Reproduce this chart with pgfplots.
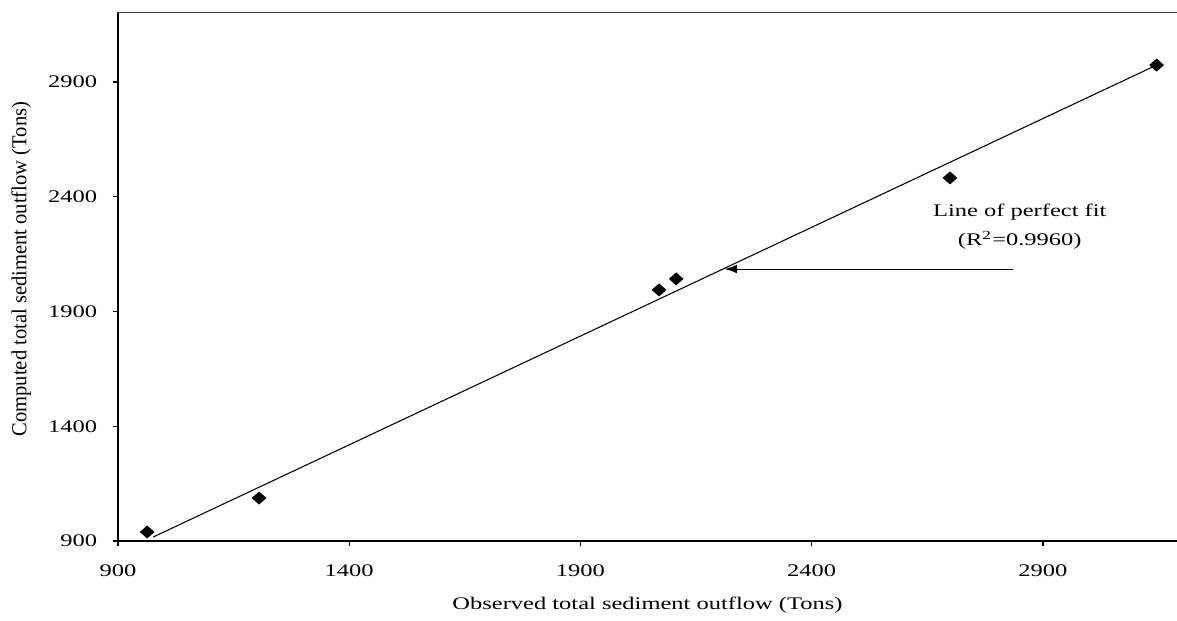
\documentclass[border=0pt]{standalone}
\usepackage{fontspec}
\setmainfont{Liberation Serif}
\usepackage{pgfplots}
\pgfplotsset{compat=1.18}
\usetikzlibrary{arrows.meta}
\begin{document}
\begin{tikzpicture}
\begin{axis}[
  scale only axis,
  width=596.7pt, height=298pt,
  xmin=900, xmax=3190, ymin=900, ymax=3205,
  axis x line=bottom, axis y line=left,
  axis line style={-, line width=1.1pt},
  xtick={900,1400,1900,2400,2900},
  ytick={900,1400,1900,2400,2900},
  xticklabels={\scalebox{1.38}[1]{900},\scalebox{1.38}[1]{1400},\scalebox{1.38}[1]{1900},\scalebox{1.38}[1]{2400},\scalebox{1.38}[1]{2900}},
  yticklabels={\scalebox{1.38}[1]{900},\scalebox{1.38}[1]{1400},\scalebox{1.38}[1]{1900},\scalebox{1.38}[1]{2400},\scalebox{1.38}[1]{2900}},
  tick align=outside, major tick length=2.8pt,
  tick style={line width=0.8pt, black},
  tick label style={font=\fontsize{10}{12}\selectfont},
  xticklabel style={yshift=-7pt},
  yticklabel style={xshift=-5.5pt},
  label style={font=\fontsize{10}{12}\selectfont},
  xlabel={\scalebox{1.38}[1]{Observed total sediment outflow (Tons)}},
  ylabel={\scalebox{1.16}[1.2]{Computed total sediment outflow (Tons)}},
  xlabel style={at={(axis description cs:0.5,-0.1208)}, anchor=center},
  ylabel style={at={(axis description cs:-0.0915,0.514)}, anchor=center},
  clip=false,
]
\addplot[black, line width=0.6pt] coordinates {(976,917) (3146,2974)};
\addplot[only marks, mark=diamond*, mark size=3.4pt, mark options={xscale=1.5, fill=black, draw=black}] coordinates {
(963,939) (1205,1087) (2070,1994) (2107,2042) (2699,2482) (3146,2974)};
\addplot[black, line width=0.6pt, -{Latex[length=7pt,width=5pt]}] coordinates {(2835,2085) (2212,2085)};
\node[font=\fontsize{10}{12}\selectfont] at (axis cs:2850,2334) {\scalebox{1.38}[1]{Line of perfect fit}};
\node[font=\fontsize{10}{12}\selectfont] at (axis cs:2850,2211) {\scalebox{1.38}[1]{(R\textsuperscript{2}=0.9960)}};
\draw[line width=0.6pt, black!75] (rel axis cs:0,1) -- (rel axis cs:1,1);
\coordinate (o) at (rel axis cs:0,0);
\coordinate (tr) at (rel axis cs:1,1);
\end{axis}
\pgfresetboundingbox
\path[use as bounding box] ([shift={(-66.5pt,-45pt)}]o) rectangle ([shift={(0pt,6.8pt)}]tr);
\end{tikzpicture}
\end{document}
